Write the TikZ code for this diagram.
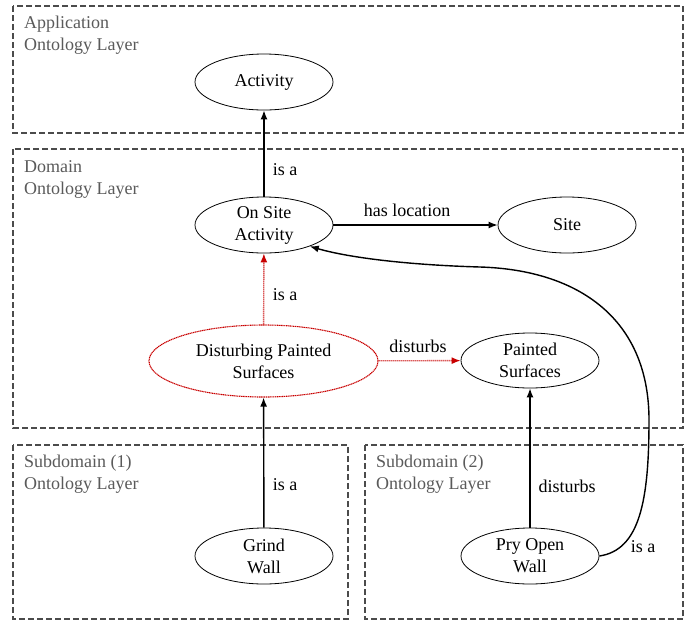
\documentclass[tikz,border=0pt]{standalone}
\usepackage{fontspec}
\setmainfont{Liberation Serif}
\usetikzlibrary{arrows.meta,shapes.geometric}
\definecolor{layergray}{RGB}{75,75,75}
\definecolor{labelgray}{RGB}{90,90,90}
\definecolor{relred}{RGB}{200,0,0}
\tikzset{
  layer/.style={draw=layergray, line width=1.4pt, dash pattern=on 6pt off 3pt},
  layertext/.style={anchor=base west, inner sep=0pt, align=left, text=labelgray,
    font=\fontsize{18}{22}\selectfont},
  concept/.style={ellipse, draw, line width=0.8pt, minimum width=138pt, minimum height=56pt,
    inner sep=0pt, align=center, font=\fontsize{18}{22}\selectfont},
  redconcept/.style={concept, draw=relred, dash pattern=on 1.2pt off 0.6pt, line width=1.1pt},
  rel/.style={line width=1.4pt, -{Latex[length=9pt,width=7pt]}},
  redrel/.style={rel, draw=relred, dash pattern=on 1.2pt off 0.8pt, -{Latex[length=9pt,width=7pt,fill=relred]}},
  lbl/.style={inner sep=0pt, font=\fontsize{18}{22}\selectfont},
}
\begin{document}
\begin{tikzpicture}[x=1pt, y=-1pt]
\useasboundingbox (0,0) rectangle (697,622);

% ontology layers
\draw[layer] (13,6) rectangle (683,133);
\draw[layer] (13,149) rectangle (683,428);
\draw[layer] (13,445) rectangle (348,619);
\draw[layer] (365,445) rectangle (683,619);
\node[layertext] (lapp1) at (24,28) {Application};
\node[layertext] (lapp2) at (24,50) {Ontology Layer};
\node[layertext] (ldom1) at (24,172) {Domain};
\node[layertext] (ldom2) at (24,194) {Ontology Layer};
\node[layertext] (lsub11) at (24,467) {Subdomain (1)};
\node[layertext] (lsub12) at (24,489) {Ontology Layer};
\node[layertext] (lsub21) at (376,467) {Subdomain (2)};
\node[layertext] (lsub22) at (376,489) {Ontology Layer};

% concepts
\node[concept] (act) at (264,82) {Activity};
\node[concept] (osa) at (264,225) {On Site\\Activity};
\node[concept] (site) at (567,225) {Site};
\node[redconcept, minimum width=229pt, minimum height=72pt] (dps) at (263.5,361) {Disturbing Painted\\Surfaces};
\node[concept, minimum height=55pt] (ps) at (530,360.5) {Painted\\Surfaces};
\node[concept] (grind) at (264,556) {Grind\\Wall};
\node[concept] (pry) at (530,556) {Pry Open\\Wall};

% relations
\draw[rel] (osa) -- (act);
\draw[rel] (osa) -- (site);
\draw[redrel] (dps) -- (osa);
\draw[redrel] (dps) -- (ps);
\draw[rel] (grind) -- (dps);
\draw[rel] (pry) -- (ps);
\draw[rel] (pry.east) .. controls (640,550) and (649,500) .. (649,420)
  .. controls (649,320) and (580,270) .. (480,267)
  .. controls (410,265) and (350,258) .. (osa.-25);

% relation labels
\node[lbl] (t1) at (285,170) {is a};
\node[lbl] (t2) at (407,210) {has location};
\node[lbl] (t3) at (285,295) {is a};
\node[lbl] (t4) at (418,346) {disturbs};
\node[lbl] (t5) at (285,485) {is a};
\node[lbl] (t6) at (567,486) {disturbs};
\node[lbl] (t7) at (643,547) {is a};
\end{tikzpicture}
\end{document}
